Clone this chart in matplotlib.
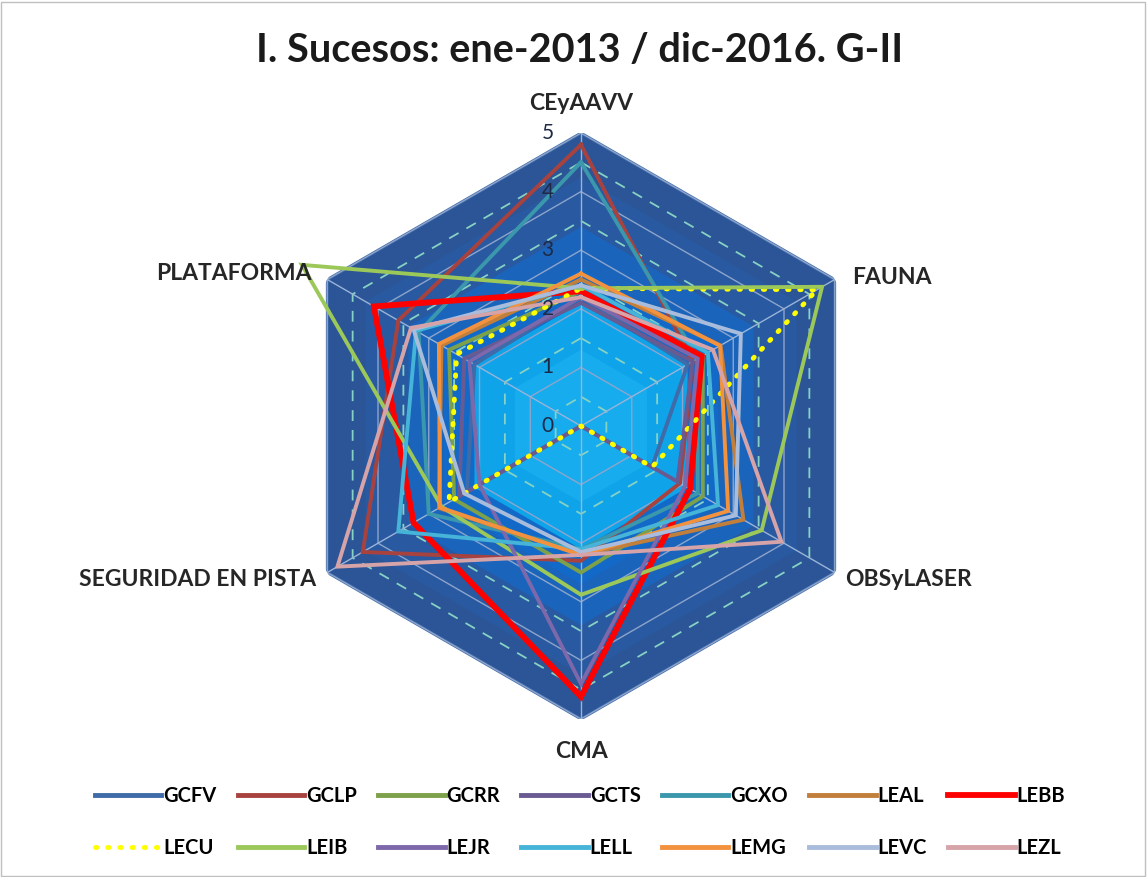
import numpy as np
import matplotlib.pyplot as plt
from matplotlib.lines import Line2D
from matplotlib.patches import Rectangle

plt.rcParams['font.family'] = ['Lato', 'DejaVu Sans']

# datos (escala 0-5)
categorias = ['CEyAAVV', 'FAUNA', 'OBSyLASER', 'CMA', 'SEGURIDAD EN PISTA', 'PLATAFORMA']
escala = [0, 1, 2, 3, 4, 5]

GCFV = [2.2, 2.1, 1.4, 0.0, 2.25, 2.1]
GCLP = [4.8, 2.2, 1.95, 2.3, 4.3, 3.6]
GCRR = [2.3, 2.4, 2.4, 2.5, 2.5, 2.6]
GCTS = [2.1, 2.2, 1.9, 0.0, 2.4, 2.3]
GCXO = [4.5, 2.3, 2.3, 2.1, 3.0, 3.2]
LEAL = [2.5, 2.75, 3.2, 2.2, 2.8, 2.75]
LEBB = [2.3, 2.38, 2.15, 4.62, 3.3, 4.08]
LECU = [2.35, 4.65, 1.4, 0.0, 2.6, 2.45]
LEIB = [2.35, 4.75, 3.56, 2.88, 2.75, 5.5]
LEJR = [2.2, 2.3, 2.05, 4.4, 2.0, 2.2]
LELL = [2.4, 2.5, 2.7, 2.1, 3.6, 3.25]
LEMG = [2.6, 2.74, 2.9, 2.2, 2.78, 2.8]
LEVC = [2.4, 3.15, 3.05, 2.15, 2.3, 3.3]
LEZL = [2.2, 2.6, 3.95, 2.2, 4.8, 3.35]

aeropuertos = ['GCFV', 'GCLP', 'GCRR', 'GCTS', 'GCXO', 'LEAL', 'LEBB',
               'LECU', 'LEIB', 'LEJR', 'LELL', 'LEMG', 'LEVC', 'LEZL']
valores = [GCFV, GCLP, GCRR, GCTS, GCXO, LEAL, LEBB,
           LECU, LEIB, LEJR, LELL, LEMG, LEVC, LEZL]

colores = ['#3F6BA8', '#A8423F', '#7DA04A', '#6A5A92', '#3A97AC', '#C27F3B', '#FF0000',
           '#FFFF00', '#9CC85A', '#7C68AA', '#45B4D8', '#F2923F', '#A9BCDB', '#D6A4A8']
grosor = [2.8] * 14
grosor[6] = 4.2

W, H = 1147, 877
fig = plt.figure(figsize=(W / 100, H / 100), dpi=100)
fig.patch.set_facecolor('white')
fig.patches.append(Rectangle((0.001, 0.001), 0.997, 0.997, transform=fig.transFigure,
                             fill=False, edgecolor='#BFBFBF', lw=1))

cx, cy, R = 581, 426, 293
ax = fig.add_axes([(cx - R) / W, (H - cy - R) / H, 2 * R / W, 2 * R / H], projection='polar')
ax.set_theta_zero_location('N')
ax.set_theta_direction(-1)
ax.set_ylim(0, 5)
ax.grid(False)
ax.set_xticks([])
ax.set_yticks([])
ax.spines['polar'].set_visible(False)
ax.patch.set_visible(False)

ang = np.linspace(0, 2 * np.pi, len(categorias), endpoint=False)
ang_c = np.append(ang, ang[0])

# fondo en bandas hexagonales
bandas = [(5.0, '#2B5596'), (4.25, '#2959A0'), (3.4, '#1A64BB'), (2.7, '#1369C8'),
          (2.1, '#0FA4E9'), (1.3, '#16ACEE')]
for r, c in bandas:
    ax.fill(ang_c, [r] * 7, color=c, lw=0, zorder=1)
ax.plot(ang_c, [5] * 7, color='#426CAB', lw=2, zorder=1.5)

# rejilla
for r in escala[1:]:
    ax.plot(ang_c, [r] * 7, color='#8DA5CC', lw=1, zorder=2)
for r in np.arange(0.5, 5, 1.0):
    ax.plot(ang_c, [r] * 7, color='#86D2C4', lw=1.3, ls=(0, (6, 5)), zorder=2)
for a in ang:
    ax.plot([a, a], [0, 5], color='#9AB4D8', lw=1, zorder=2)

for i, (nom, v) in enumerate(zip(aeropuertos, valores)):
    vc = v + v[:1]
    if nom == 'LECU':
        ax.plot(ang_c, vc, color=colores[i], lw=3.5, ls=(0, (0.3, 2.2)),
                dash_capstyle='round', zorder=3 + i, clip_on=False)
    else:
        ax.plot(ang_c, vc, color=colores[i], lw=grosor[i], zorder=3 + i,
                clip_on=False, solid_joinstyle='miter')

for r in escala:
    ax.annotate(str(r), xy=(0, r), xytext=(-24, 0), textcoords='offset points',
                ha='center', va='center', fontsize=15, color='#1E2A45', zorder=30)

# etiquetas de categorias
pos = [(581, 103, 'center'), (852, 277, 'left'), (845, 580, 'left'),
       (582, 752, 'center'), (316, 580, 'right'), (312, 274, 'right')]
for cat, (x, y, ha) in zip(categorias, pos):
    fig.text(x / W, 1 - y / H, cat, ha=ha, va='center', fontsize=16.5,
             fontweight='bold', color='#262626')

fig.text(580 / W, 1 - 50 / H, 'I. Sucesos: ene-2013 / dic-2016. G-II', ha='center',
         va='center', fontsize=28.5, fontweight='bold', color='#1A1A1A')

handles = []
for i, nom in enumerate(aeropuertos):
    if nom == 'LECU':
        h = Line2D([], [], color=colores[i], lw=3.5, ls=(0, (0.3, 2.2)), dash_capstyle='round')
    else:
        h = Line2D([], [], color=colores[i], lw=4.2 if nom == 'LEBB' else 3.5)
    handles.append(h)
orden = [j for par in zip(range(7), range(7, 14)) for j in par]
fig.legend([handles[j] for j in orden], [aeropuertos[j] for j in orden], ncol=7,
           loc='center', bbox_to_anchor=(580 / W, 1 - 822 / H), frameon=False,
           handlelength=3.3, handletextpad=0.1, columnspacing=1.05, labelspacing=1.6,
           prop={'weight': 'bold', 'size': 14.5})

fig.savefig('out.png', dpi=100)
